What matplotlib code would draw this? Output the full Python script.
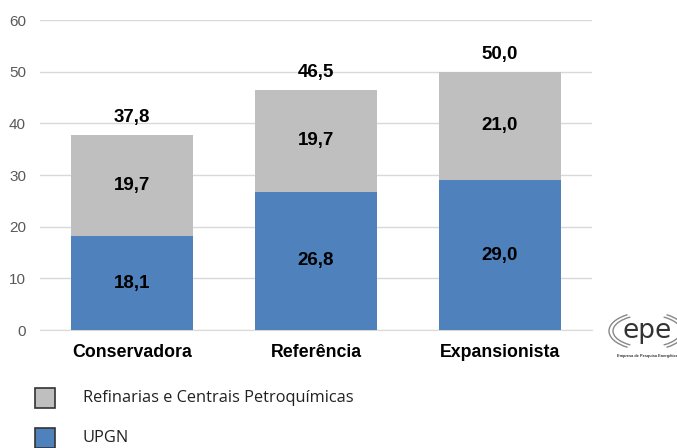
import numpy as np
import matplotlib.pyplot as plt
from matplotlib.patches import Rectangle, Arc

# Data
categorias = ['Conservadora', 'Referência', 'Expansionista']
upgn = [18.1, 26.8, 29.0]
refinarias = [19.7, 19.7, 21.0]
totais = [37.8, 46.5, 50.0]

cor_upgn = '#4F81BD'
cor_ref = '#BFBFBF'

plt.rcParams['font.family'] = ['Liberation Sans', 'DejaVu Sans']

def fmt(v):
    return f'{v:.1f}'.replace('.', ',')

fig = plt.figure(figsize=(6.77, 4.48), dpi=100)
ax = fig.add_axes([40 / 677, 1 - 330 / 448, 552 / 677, 310 / 448])

x = np.arange(len(categorias))
largura = 0.663
ax.bar(x, upgn, largura, color=cor_upgn, zorder=3)
ax.bar(x, refinarias, largura, bottom=upgn, color=cor_ref, zorder=3)

for i in range(len(categorias)):
    ax.text(x[i], upgn[i] / 2, fmt(upgn[i]), ha='center', va='center',
            fontsize=13.5, fontweight='bold', color='black', zorder=4)
    ax.text(x[i], upgn[i] + refinarias[i] / 2, fmt(refinarias[i]), ha='center',
            va='center', fontsize=13.5, fontweight='bold', color='black', zorder=4)
    ax.text(x[i], totais[i] + 3.4, fmt(totais[i]), ha='center', va='center',
            fontsize=13.5, fontweight='bold', color='black', zorder=4)

ax.set_xlim(-0.5, 2.5)
ax.set_ylim(0, 60)
ax.set_yticks(np.arange(0, 61, 10))
ax.set_xticks(x)
ax.set_xticklabels(categorias, fontsize=12.8, fontweight='bold')
ax.tick_params(axis='y', labelsize=11, colors='#595959', length=0, pad=10)
ax.tick_params(axis='x', length=0, pad=10)
ax.grid(axis='y', color='#D9D9D9', linewidth=1, zorder=0)
for s in ['top', 'right', 'left']:
    ax.spines[s].set_visible(False)
ax.spines['bottom'].set_color('#D9D9D9')

# Legend drawn manually below the chart
legenda = [(cor_ref, 'Refinarias e Centrais Petroquímicas', 398),
           (cor_upgn, 'UPGN', 438)]
for cor, rotulo, yp in legenda:
    fig.patches.append(Rectangle((35 / 677, 1 - (yp + 10) / 448), 20 / 677, 20 / 448,
                                 transform=fig.transFigure, facecolor=cor,
                                 edgecolor='#333333', linewidth=1.2))
    fig.text(83 / 677, 1 - yp / 448, rotulo, fontsize=11.8, va='center',
             family='Open Sans', color='#222222')

# epe logo
fig.text(647 / 677, 1 - 331 / 448, 'epe', fontsize=19, ha='center', va='center',
         color='#333333', family='DejaVu Sans')
fig.text(647 / 677, 1 - 356 / 448, 'Empresa de Pesquisa Energética', fontsize=2.8,
         ha='center', va='center', color='#333333', fontweight='bold')
lax = fig.add_axes([607 / 677, 1 - 351 / 448, 80 / 677, 40 / 448])
lax.set_xlim(0, 80)
lax.set_ylim(0, 40)
lax.axis('off')
for w, h in [(76, 38), (68, 32)]:
    lax.add_patch(Arc((40, 20), w, h, theta1=140, theta2=220, color='#888888', lw=1))
    lax.add_patch(Arc((40, 20), w, h, theta1=-40, theta2=40, color='#888888', lw=1))

fig.savefig('out.png', dpi=100)
